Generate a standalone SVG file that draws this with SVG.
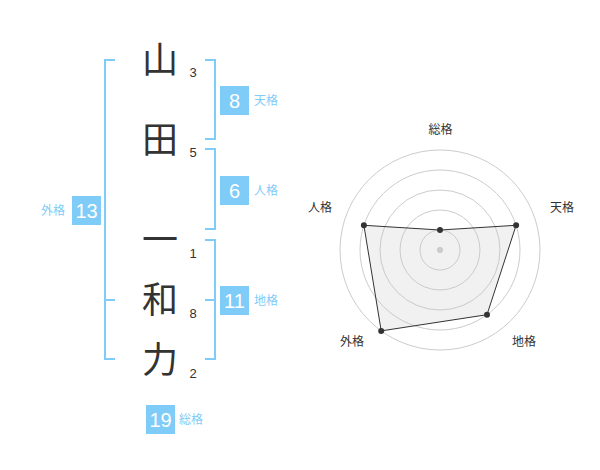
<svg xmlns="http://www.w3.org/2000/svg" width="600" height="470" viewBox="0 0 600 470">
<style>
.ch{font-family:"Noto Sans CJK JP","Noto Sans CJK SC",sans-serif;font-size:36px;fill:#333;text-anchor:middle}
.num{font-family:"Liberation Sans",Arial,sans-serif;font-size:13px;fill:#333;text-anchor:middle}
.br{fill:none;stroke:#80ccf8;stroke-width:2}
.box{fill:#80ccf8}
.bt{font-family:"Liberation Sans",Arial,sans-serif;font-size:20px;fill:#fff;text-anchor:middle}
.lb{font-family:"Noto Sans CJK JP","Noto Sans CJK SC",sans-serif;font-size:12px;fill:#80ccf8}
.rl{font-family:"Noto Sans CJK JP","Noto Sans CJK SC",sans-serif;font-size:12px;fill:#333;text-anchor:middle}
.ring{fill:none;stroke:#ccc;stroke-width:1}
.pt{fill:#333}
</style>
<rect width="600" height="470" fill="#fff"/>
<g id="connectors">
<path class="br" d="M205 60H215V139H205"/>
<path class="br" d="M205 149H215V229H205"/>
<path class="br" d="M205 240H215V359H205M205 300H215"/>
<path class="br" d="M115 60H105V359H115M105 300H115"/>
</g>
<g id="char1"><text class="ch" x="160" y="73">山</text><text class="num" x="193" y="77">3</text></g>
<g id="char2"><text class="ch" x="160" y="153">田</text><text class="num" x="193" y="157">5</text></g>
<g id="char3"><text class="ch" x="160" y="253">一</text><text class="num" x="193" y="258">1</text></g>
<g id="char4"><text class="ch" x="160" y="313">和</text><text class="num" x="193" y="318">8</text></g>
<g id="char5"><text class="ch" x="160" y="373">力</text><text class="num" x="193" y="378">2</text></g>
<g id="tenkaku"><rect class="box" x="220" y="86" width="29" height="29"/><text class="bt" x="234.5" y="107.5">8</text><text class="lb" x="254" y="105">天格</text></g>
<g id="jinkaku"><rect class="box" x="220" y="176" width="29" height="29"/><text class="bt" x="234.5" y="197.5">6</text><text class="lb" x="254" y="195">人格</text></g>
<g id="chikaku"><rect class="box" x="220" y="286" width="29" height="29"/><text class="bt" x="234.5" y="307.5">11</text><text class="lb" x="254" y="305">地格</text></g>
<g id="gaikaku"><rect class="box" x="72" y="196" width="29" height="29"/><text class="bt" x="86.5" y="217.5">13</text><text class="lb" x="41" y="215">外格</text></g>
<g id="soukaku"><rect class="box" x="146" y="405" width="29" height="29"/><text class="bt" x="160.5" y="426.5">19</text><text class="lb" x="179" y="424">総格</text></g>
<g id="radar">
<circle class="ring" cx="440" cy="250" r="100"/>
<circle class="ring" cx="440" cy="250" r="80"/>
<circle class="ring" cx="440" cy="250" r="60"/>
<circle class="ring" cx="440" cy="250" r="40"/>
<circle class="ring" cx="440" cy="250" r="20"/>
<circle cx="440" cy="250" r="3" fill="#ccc"/>
<polygon points="440,230 516.1,225.3 487,314.7 381.2,330.9 363.9,225.3" fill="rgba(200,200,200,0.25)" stroke="#333" stroke-width="1"/>
<circle class="pt" cx="440" cy="230" r="3"/>
<circle class="pt" cx="516.1" cy="225.3" r="3"/>
<circle class="pt" cx="487" cy="314.7" r="3"/>
<circle class="pt" cx="381.2" cy="330.9" r="3"/>
<circle class="pt" cx="363.9" cy="225.3" r="3"/>
<text class="rl" x="440.5" y="134">総格</text>
<text class="rl" x="562" y="212">天格</text>
<text class="rl" x="524" y="346">地格</text>
<text class="rl" x="352" y="346">外格</text>
<text class="rl" x="320" y="212">人格</text>
</g>
</svg>
